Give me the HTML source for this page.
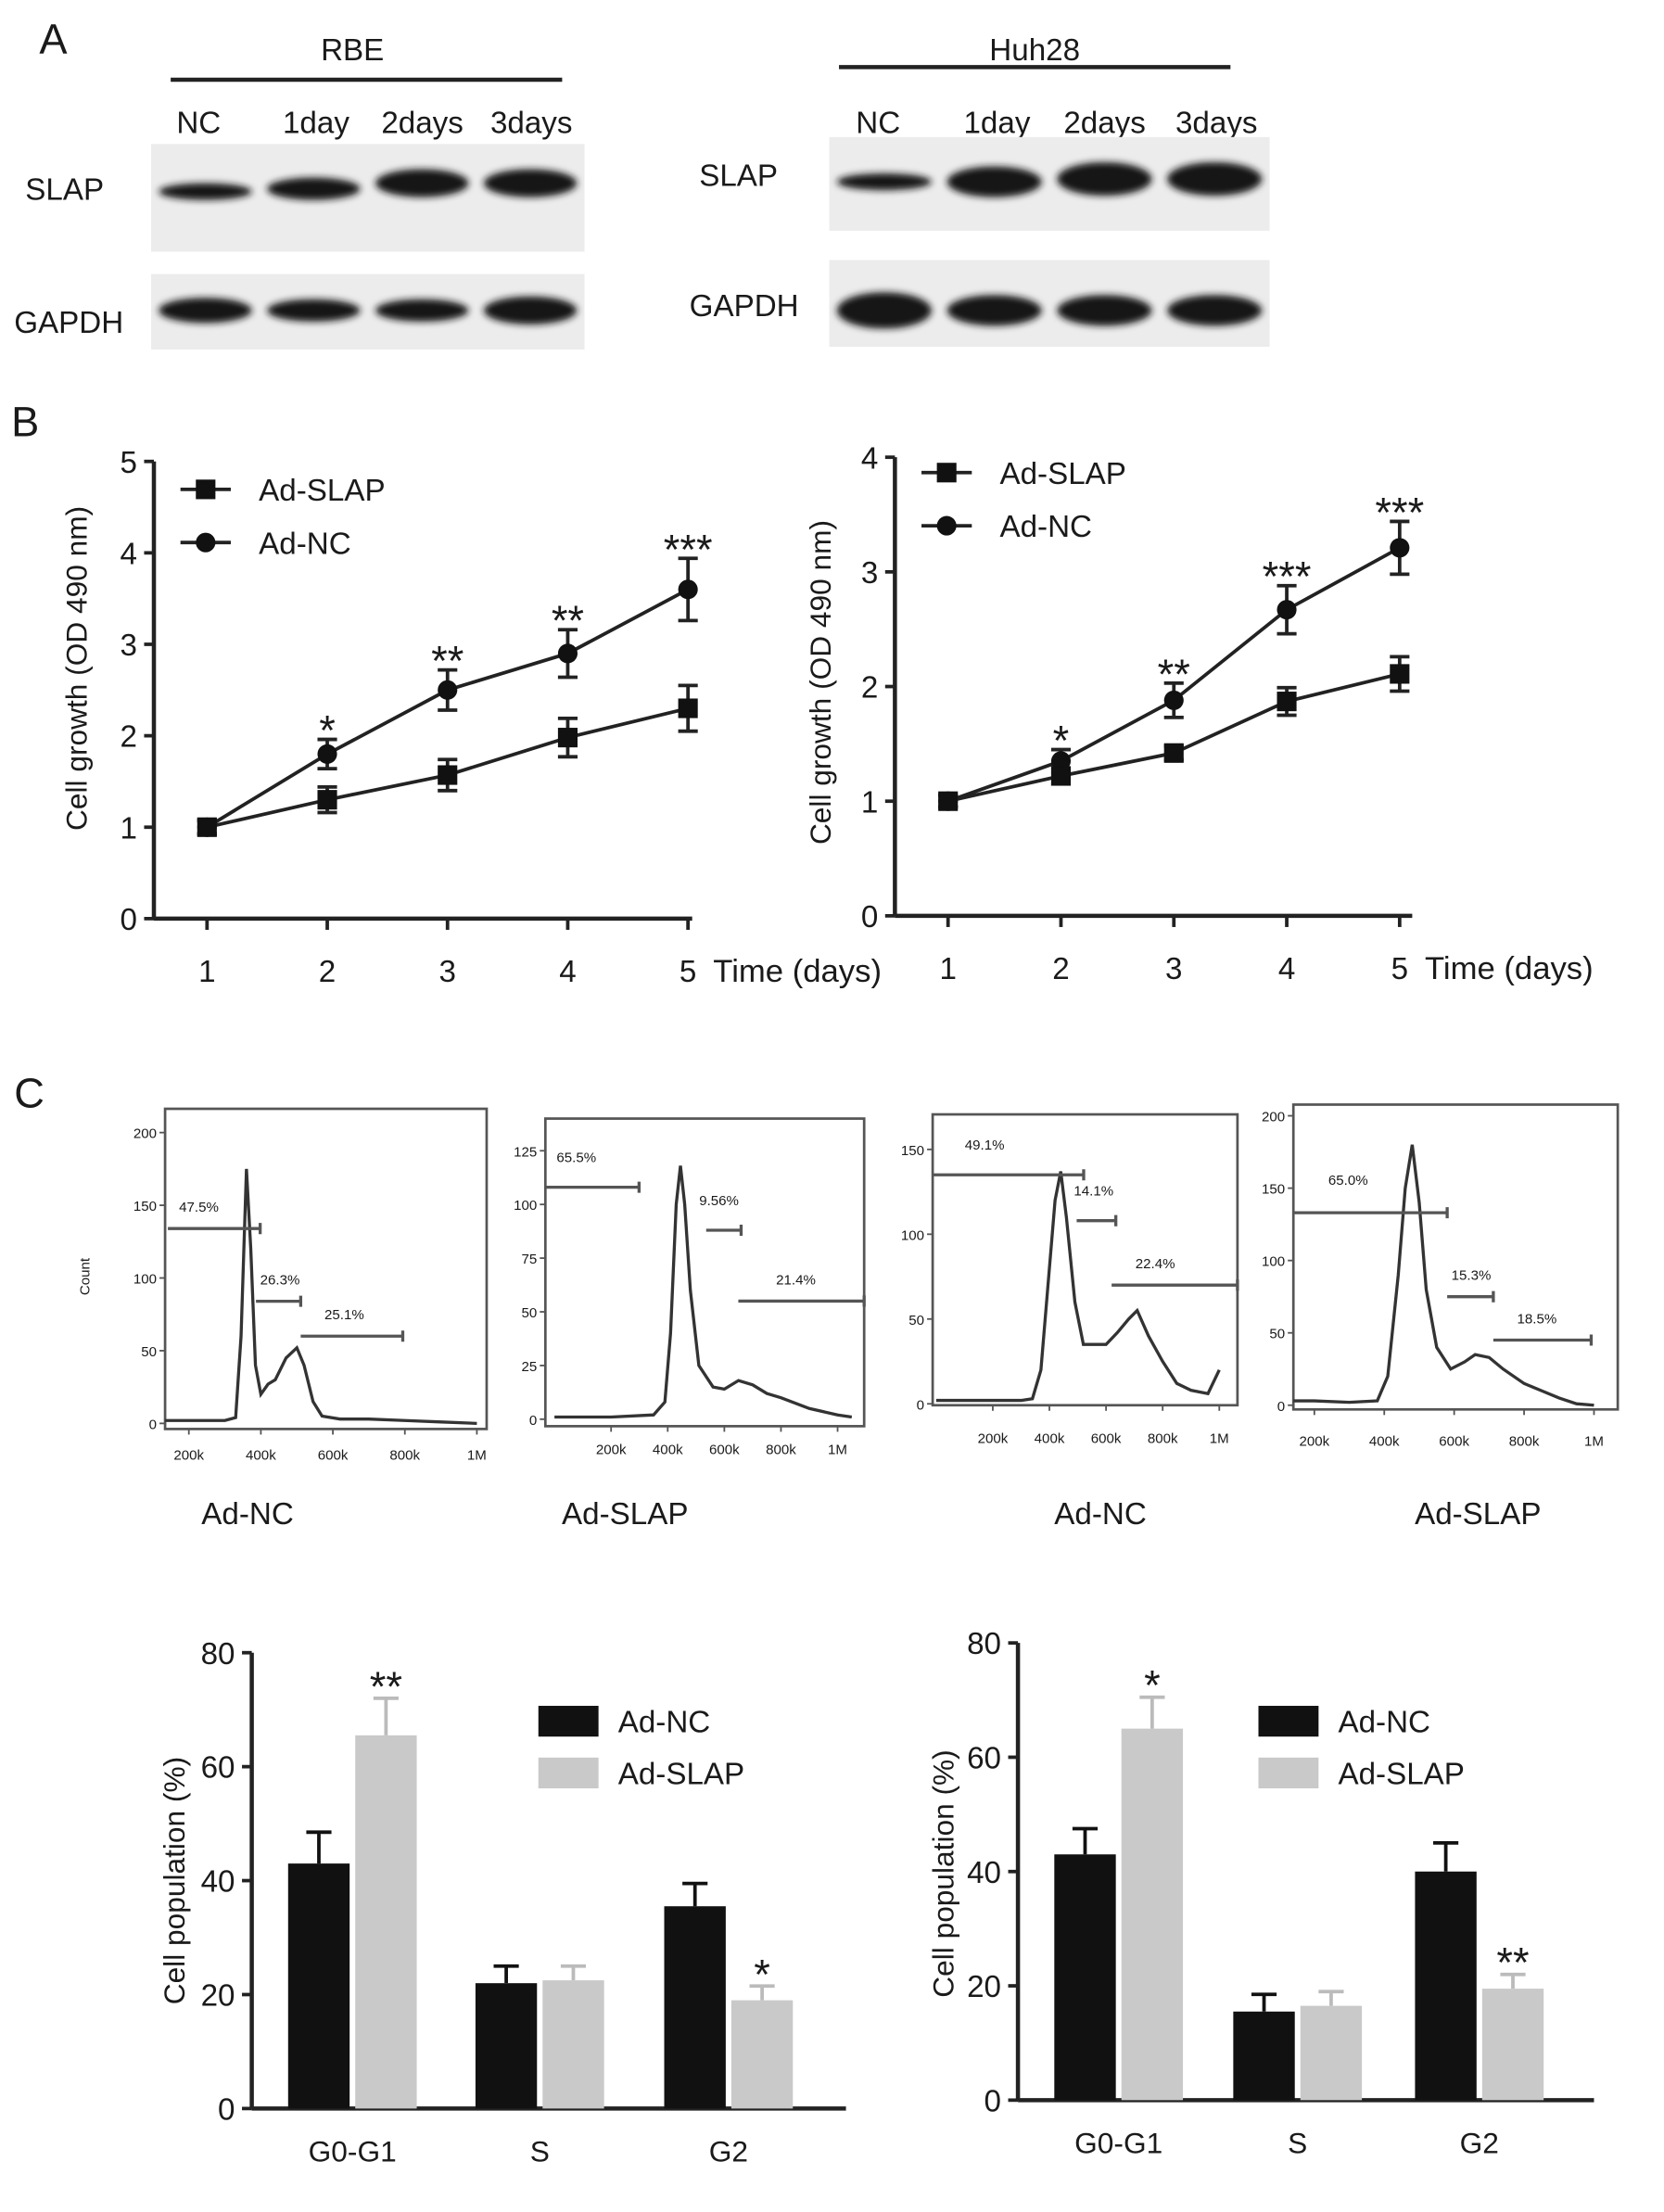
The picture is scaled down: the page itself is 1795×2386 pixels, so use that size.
<!DOCTYPE html>
<html><head><meta charset="utf-8">
<style>
html,body{margin:0;padding:0;background:#fff;}
svg{display:block;}
text{font-family:"Liberation Sans",Arial,sans-serif;fill:#1a1a1a;}
</style></head>
<body>
<svg id="fig" width="1795" height="2386" viewBox="0 0 1190 1582" xmlns="http://www.w3.org/2000/svg">
<defs>
<filter id="blur" x="-10%" y="-50%" width="120%" height="200%"><feGaussianBlur stdDeviation="2.5"/></filter>
</defs>
<g id="root"></g>
</svg>
<script>
// ---------- Panel B data ----------
const days = [1,2,3,4,5];
const rbeSlap = [1.0,1.3,1.57,1.98,2.3];
const rbeSlapErr = [0.08,0.14,0.17,0.21,0.25];
const rbeNc = [1.0,1.8,2.5,2.9,3.6];
const rbeNcErr = [0.07,0.16,0.22,0.26,0.34];
const rbeStars = ["","*","**","**","***"];
const huhSlap = [1.0,1.22,1.42,1.87,2.11];
const huhSlapErr = [0.05,0.07,0.06,0.12,0.15];
const huhNc = [1.0,1.35,1.88,2.67,3.21];
const huhNcErr = [0.05,0.1,0.15,0.21,0.23];
const huhStars = ["","*","**","***","***"];
// ---------- Panel C bar data ----------
const phases = ["G0-G1","S","G2"];
const rbeBarNc = [43,22,35.5];
const rbeBarNcErr = [5.5,3,4];
const rbeBarSlap = [65.5,22.5,19];
const rbeBarSlapErr = [6.5,2.5,2.5];
const rbeBarStars = ["**","","*"];
const huhBarNc = [43,15.5,40];
const huhBarNcErr = [4.5,3,5];
const huhBarSlap = [65,16.5,19.5];
const huhBarSlapErr = [5.5,2.5,2.5];
const huhBarStars = ["*","","**"];
const barTicks = [0,20,40,60,80];
// ---------- Flow histograms (x in k, count) ----------
const flow1X = [100,200,300,330,345,360,372,385,400,420,440,470,500,520,545,570,620,700,800,900,1000];
const flow1Y = [2,2,2,4,60,175,120,40,20,27,30,45,52,40,15,5,3,3,2,1,0];
const flow2X = [0,200,350,390,410,430,445,460,480,510,560,600,650,700,750,800,900,1000,1050];
const flow2Y = [1,1,2,8,40,100,118,100,60,25,15,14,18,16,12,10,5,2,1];
const flow3X = [0,200,300,340,370,400,420,440,460,490,520,560,600,640,680,710,750,800,850,900,960,1000];
const flow3Y = [2,2,2,3,20,80,120,137,110,60,35,35,35,42,50,55,40,25,12,8,6,20];
const flow4X = [100,200,300,380,410,440,460,480,500,520,550,590,630,660,700,740,800,850,900,950,1000];
const flow4Y = [3,3,2,3,20,90,150,180,140,80,40,25,30,35,33,25,15,10,5,1,0];

const NS="http://www.w3.org/2000/svg";
const root=document.getElementById('root');
function el(tag,attrs,parent,txt){const e=document.createElementNS(NS,tag);for(const k in attrs)e.setAttribute(k,attrs[k]);if(txt!==undefined)e.textContent=txt;(parent||root).appendChild(e);return e;}
function grp(name,parent){const g=el('g',{},parent);return g;}
function txt(name,x,y,s,size,parent,extra){const t=el('text',Object.assign({x:x,y:y,'font-size':size},extra||{}),parent,s);return t;}

// ================= Panel A =================
const gA=grp('panel-a');
txt('panel-a-label',28,38,'A',30,gA);
function blotSet(name,cx,lineY,x0,x1,headerY,lanes,slapBox,gapBox,slapLbl,gapLbl,slapInt,gapInt,slapBandY,gapBandY){
  const g=grp(name,gA);
  txt(name+'-title',cx,43,name==='rbe-blot'?'RBE':'Huh28',22,g,{'text-anchor':'middle'});
  const l=el('line',{x1:x0,x2:x1,y1:lineY,y2:lineY,stroke:'#222','stroke-width':3},g);
  
  const labels=['NC','1day','2days','3days'];
  labels.forEach((s,i)=>txt(name+'-lane-'+i,lanes[i],95,s,22,g,{'text-anchor':'middle'}));
  [[slapBox,slapInt,slapBandY,'slap'],[gapBox,gapInt,gapBandY,'gapdh']].forEach(([b,ints,by,nm])=>{
    const r=el('rect',{x:b[0],y:b[1],width:b[2]-b[0],height:b[3]-b[1],fill:'#ececec'},g);
    
    ints.forEach((v,i)=>{
      const w=(b[2]-b[0])/4;
      const e=el('ellipse',{cx:b[0]+w*(i+0.5),cy:by[i],rx:w*0.43,ry:v,fill:'#151515',filter:'url(#blur)'},g);
      
    });
  });
  txt(name+'-slap-label',slapLbl[0],slapLbl[1],'SLAP',22,g);
  txt(name+'-gapdh-label',gapLbl[0],gapLbl[1],'GAPDH',22,g);
}
blotSet('rbe-blot',252,57,122,402,0,[142,226,302,380],[108,103,418,180],[108,196,418,250],[18,143],[10,238],[6,8,10,10],[9,8,8,10],[137,135,131,131],[222,222,222,222]);
blotSet('huh28-blot',740,48,600,880,0,[628,713,790,870],[593,98,908,165],[593,186,908,248],[500,133],[493,226],[6,11,12,12],[13,11,11,11],[130,130,128,128],[222,222,222,222]);

// ================= Panel B =================
const gB=grp('panel-b');
txt('panel-b-label',8,312,'B',30,gB);
function lineChart(name,ax){
  const g=grp(name,gB);
  const sx=d=>ax.x1+(d-1)*(ax.x5-ax.x1)/4;
  const sy=v=>ax.y0-v*(ax.y0-ax.yTop)/ax.ymax;
  el('line',{x1:ax.xa,x2:ax.xa,y1:sy(ax.ymax),y2:ax.y0,stroke:'#222','stroke-width':3},g);
  el('line',{x1:ax.xa,x2:ax.xEnd,y1:ax.y0,y2:ax.y0,stroke:'#222','stroke-width':3},g);
  for(let v=0;v<=ax.ymax;v++){
    el('line',{x1:ax.xa-7,x2:ax.xa,y1:sy(v),y2:sy(v),stroke:'#222','stroke-width':2.5},g);
    txt(name+'-ytick-'+v,ax.xa-12,sy(v)+8,String(v),22,g,{'text-anchor':'end'});
  }
  days.forEach(d=>{
    el('line',{x1:sx(d),x2:sx(d),y1:ax.y0,y2:ax.y0+8,stroke:'#222','stroke-width':2.5},g);
    txt(name+'-xtick-'+d,sx(d),ax.y0+45,String(d),22,g,{'text-anchor':'middle'});
  });
  txt(name+'-x-title',sx(5)+18,ax.y0+45,'Time (days)',23,g);
  txt(name+'-y-title',0,0,'Cell growth (OD 490 nm)',21,g,{'text-anchor':'middle',transform:`translate(${ax.yt[0]},${ax.yt[1]}) rotate(-90)`});
  [[ax.nc,ax.ncErr,'nc'],[ax.slap,ax.slapErr,'slap']].forEach(([vals,errs,nm])=>{
    const p=el('polyline',{points:vals.map((v,i)=>sx(days[i])+','+sy(v)).join(' '),fill:'none',stroke:'#222','stroke-width':2.5},g);
    
    vals.forEach((v,i)=>{
      const x=sx(days[i]);
      const eb=el('path',{d:`M${x},${sy(v+errs[i])}V${sy(v-errs[i])}M${x-7},${sy(v+errs[i])}H${x+7}M${x-7},${sy(v-errs[i])}H${x+7}`,stroke:'#222','stroke-width':2.5,fill:'none'},g);
      
      let m;
      if(nm==='nc') m=el('circle',{cx:x,cy:sy(v),r:7,fill:'#111'},g);
      else m=el('rect',{x:x-7,y:sy(v)-7,width:14,height:14,fill:'#111'},g);
      
    });
  });
  ax.stars.forEach((s,i)=>{ if(s) txt(name+'-sig-'+i,sx(days[i]),sy(ax.nc[i]+ax.ncErr[i])+4,s,30,g,{'text-anchor':'middle'}); });
  const lg=grp(name+'-legend',g);
  el('line',{x1:ax.lg[0]-18,x2:ax.lg[0]+18,y1:ax.lg[1],y2:ax.lg[1],stroke:'#222','stroke-width':2.5},lg);
  el('rect',{x:ax.lg[0]-7,y:ax.lg[1]-7,width:14,height:14,fill:'#111'},lg);
  txt(name+'-legend-slap',ax.lg[0]+38,ax.lg[1]+8,'Ad-SLAP',22,lg);
  el('line',{x1:ax.lg[0]-18,x2:ax.lg[0]+18,y1:ax.lg[1]+38,y2:ax.lg[1]+38,stroke:'#222','stroke-width':2.5},lg);
  el('circle',{cx:ax.lg[0],cy:ax.lg[1]+38,r:7,fill:'#111'},lg);
  txt(name+'-legend-nc',ax.lg[0]+38,ax.lg[1]+46,'Ad-NC',22,lg);
}
lineChart('rbe-growth-chart',{xa:110,xEnd:495,x1:148,x5:492,y0:657,yTop:330,ymax:5,nc:rbeNc,ncErr:rbeNcErr,slap:rbeSlap,slapErr:rbeSlapErr,stars:rbeStars,yt:[62,478],lg:[147,350]});
lineChart('huh28-growth-chart',{xa:640,xEnd:1010,x1:678,x5:1001,y0:655,yTop:327,ymax:4,nc:huhNc,ncErr:huhNcErr,slap:huhSlap,slapErr:huhSlapErr,stars:huhStars,yt:[594,488],lg:[677,338]});

// ================= Panel C flow =================
const gC=grp('panel-c');
txt('panel-c-label',10,792,'C',30,gC);
function flow(name,cfg){
  const g=grp(name,gC);
  const sx=k=>cfg.x200+(k-200)*cfg.kpx;
  const sy=c=>cfg.y0-c*cfg.cpx;
  const b=el('rect',{x:cfg.box[0],y:cfg.box[1],width:cfg.box[2]-cfg.box[0],height:cfg.box[3]-cfg.box[1],fill:'none',stroke:'#555','stroke-width':1.8},g);
  
  cfg.yticks.forEach(v=>{
    el('line',{x1:cfg.box[0]-4,x2:cfg.box[0],y1:sy(v),y2:sy(v),stroke:'#555','stroke-width':1.2},g);
    txt(name+'-ytick-'+v,cfg.box[0]-6,sy(v)+4,String(v),10,g,{'text-anchor':'end',fill:'#444'});
  });
  [200,400,600,800,1000].forEach(k=>{
    el('line',{x1:sx(k),x2:sx(k),y1:cfg.box[3],y2:cfg.box[3]+4,stroke:'#555','stroke-width':1.2},g);
    txt(name+'-xtick-'+k,sx(k),cfg.xly,k===1000?'1M':k+'k',10,g,{'text-anchor':'middle',fill:'#444'});
  });
  const p=el('polyline',{points:cfg.xs.map((k,i)=>Math.max(cfg.box[0],Math.min(cfg.box[2],sx(k)))+','+sy(cfg.ys[i])).join(' '),fill:'none',stroke:'#333','stroke-width':2.2},g);
  
  cfg.gates.forEach((gt,i)=>{
    const y=sy(gt[0]);
    const gl=el('path',{d:`M${gt[1]},${y}H${gt[2]}M${gt[2]},${y-4}V${y+4}`,stroke:'#555','stroke-width':2.2,fill:'none'},g);
    
    txt(name+'-gate-label-'+i,gt[3],y-gt[5],gt[4],10,g,{fill:'#444'});
  });
  txt(name+'-caption',cfg.cap[0],cfg.cap[1],cfg.cap[2],22,g,{'text-anchor':'middle'});
}
txt('count-axis-title',0,0,'Count',10,gC,{'text-anchor':'middle',transform:'translate(64,913) rotate(-90)',fill:'#444'});
flow('flow-rbe-nc',{box:[118,793,348,1022],y0:1018,cpx:1.04,yticks:[0,50,100,150,200],x200:135,kpx:0.2575,xly:1044,xs:flow1X,ys:flow1Y,
  gates:[[134,120,186,128,'47.5%',12],[84,183,215,186,'26.3%',12],[60,215,288,232,'25.1%',12]],cap:[177,1090,'Ad-NC']});
flow('flow-rbe-slap',{box:[390,800,618,1020],y0:1015,cpx:1.536,yticks:[0,25,50,75,100,125],x200:437,kpx:0.2025,xly:1040,xs:flow2X,ys:flow2Y,
  gates:[[108,390,457,398,'65.5%',18],[88,505,530,500,'9.56%',18],[55,528,618,555,'21.4%',12]],cap:[447,1090,'Ad-SLAP']});
flow('flow-huh28-nc',{box:[667,797,885,1005],y0:1004,cpx:1.213,yticks:[0,50,100,150],x200:710,kpx:0.2025,xly:1032,xs:flow3X,ys:flow3Y,
  gates:[[135,667,775,690,'49.1%',18],[108,770,798,768,'14.1%',18],[70,795,885,812,'22.4%',12]],cap:[787,1090,'Ad-NC']});
flow('flow-huh28-slap',{box:[925,790,1157,1008],y0:1005,cpx:1.035,yticks:[0,50,100,150,200],x200:940,kpx:0.25,xly:1034,xs:flow4X,ys:flow4Y,
  gates:[[133,925,1035,950,'65.0%',20],[75,1035,1068,1038,'15.3%',12],[45,1068,1138,1085,'18.5%',12]],cap:[1057,1090,'Ad-SLAP']});

// ================= Panel C bars =================
function barChart(name,c){
  const g=grp(name,gC);
  const sy=v=>c.y0-v*(c.y0-c.y80)/80;
  el('line',{x1:c.xa,x2:c.xa,y1:sy(80),y2:c.y0,stroke:'#222','stroke-width':3},g);
  el('line',{x1:c.xa,x2:c.xEnd,y1:c.y0,y2:c.y0,stroke:'#222','stroke-width':3},g);
  barTicks.forEach(v=>{
    el('line',{x1:c.xa-7,x2:c.xa,y1:sy(v),y2:sy(v),stroke:'#222','stroke-width':2.5},g);
    txt(name+'-ytick-'+v,c.xa-12,sy(v)+8,String(v),22,g,{'text-anchor':'end'});
  });
  txt(name+'-y-title',0,0,'Cell population (%)',21,g,{'text-anchor':'middle',transform:`translate(${c.yt[0]},${c.yt[1]}) rotate(-90)`});
  phases.forEach((ph,i)=>{
    const gx=c.gx[i];
    [[c.nc,c.ncErr,'#111',gx-c.bw-2,'nc'],[c.slap,c.slapErr,'#c9c9c9',gx+2,'slap']].forEach(([vals,errs,col,x,nm])=>{
      const v=vals[i];
      const e=el('path',{d:`M${x+c.bw/2},${sy(v)}V${sy(v+errs[i])}M${x+c.bw/2-9},${sy(v+errs[i])}H${x+c.bw/2+9}`,stroke:nm==='nc'?'#111':'#bbb','stroke-width':2.5,fill:'none'},g);
      
      const r=el('rect',{x:x,y:sy(v),width:c.bw,height:c.y0-sy(v),fill:col},g);
      
    });
    if(c.stars[i]) txt(name+'-sig-'+i,gx+2+c.bw/2,sy(c.slap[i]+c.slapErr[i])+2,c.stars[i],30,g,{'text-anchor':'middle'});
    txt(name+'-xlabel-'+i,gx,c.y0+38,ph,21,g,{'text-anchor':'middle'});
  });
  const lg=grp(name+'-legend',g);
  el('rect',{x:c.lg[0],y:c.lg[1],width:43,height:22,fill:'#111'},lg);
  txt(name+'-legend-nc',c.lg[0]+57,c.lg[1]+19,'Ad-NC',22,lg);
  el('rect',{x:c.lg[0],y:c.lg[1]+37,width:43,height:22,fill:'#c9c9c9'},lg);
  txt(name+'-legend-slap',c.lg[0]+57,c.lg[1]+56,'Ad-SLAP',22,lg);
}
barChart('rbe-cell-cycle-chart',{xa:180,xEnd:605,y0:1508,y80:1182,gx:[252,386,521],bw:44,nc:rbeBarNc,ncErr:rbeBarNcErr,slap:rbeBarSlap,slapErr:rbeBarSlapErr,stars:rbeBarStars,yt:[132,1345],lg:[385,1220]});
barChart('huh28-cell-cycle-chart',{xa:728,xEnd:1140,y0:1502,y80:1175,gx:[800,928,1058],bw:44,nc:huhBarNc,ncErr:huhBarNcErr,slap:huhBarSlap,slapErr:huhBarSlapErr,stars:huhBarStars,yt:[682,1340],lg:[900,1220]});
</script>
</body></html>
